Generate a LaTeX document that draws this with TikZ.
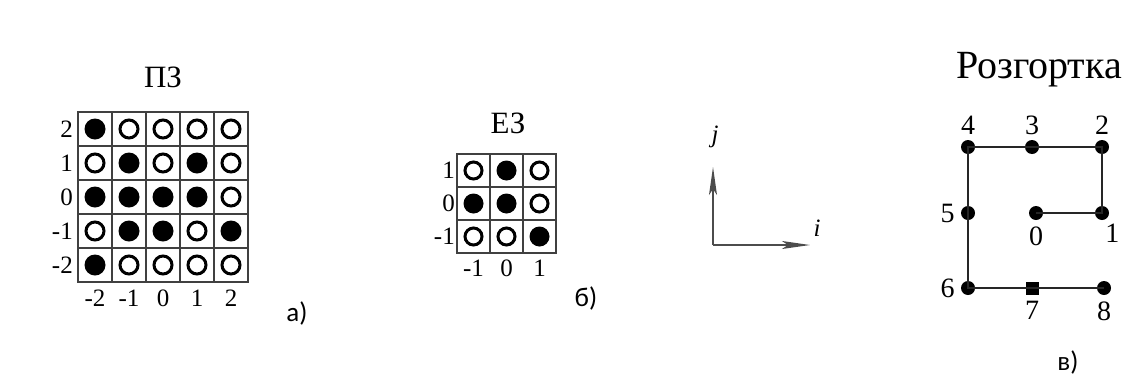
\documentclass[tikz,border=0pt]{standalone}
\usepackage{fontspec}
\setmainfont{Liberation Serif}
\newfontfamily\capfont{Carlito}
\usepackage{tikz}
\usetikzlibrary{arrows.meta, positioning}
\tikzset{
    gridline/.style={draw=black!75, line width=1.8pt},
    gridframe/.style={draw=black!75, line width=2.4pt},
    fulldot/.style={circle, fill=black, inner sep=0pt, minimum size=21pt},
    opendot/.style={circle, draw=black, line width=3pt, fill=white, inner sep=0pt, minimum size=18pt},
    ticklabel/.style={font=\fontsize{25}{27}\selectfont, inner sep=1pt},
    titlelabel/.style={font=\fontsize{31}{33}\selectfont, anchor=base},
    partlabel/.style={font=\capfont\fontsize{27}{29}\selectfont},
    walkdot/.style={circle, fill=black, inner sep=0pt, minimum size=14pt},
    walksquare/.style={rectangle, fill=black, inner sep=0pt, minimum size=13pt},
    walkline/.style={draw=black!85, line width=2pt},
    walklabel/.style={font=\fontsize{28}{30}\selectfont, inner sep=2pt},
    axisarrow/.style={draw=black!70, line width=1.4pt, -{Stealth[length=28pt, width=8pt, inset=6pt]}},
}
\begin{document}
\begin{tikzpicture}[x=1pt, y=-1pt]
    \useasboundingbox (0,0) rectangle (1129,381);

    % a) PZ grid
    \node[titlelabel] (pz-title) at (163,87) {ПЗ};
    \foreach \k in {1,...,4} {
        \draw[gridline] (78+34*\k,112) -- (78+34*\k,282);
        \draw[gridline] (78,112+34*\k) -- (248,112+34*\k);
    }
    \draw[gridframe] (78,112) rectangle (248,282);
    \foreach \row [count=\r] in {{1,0,0,0,0},{0,1,0,1,0},{1,1,1,1,0},{0,1,1,0,1},{1,0,0,0,0}} {
        \foreach \v [count=\c] in \row {
            \ifnum\v=1
                \node[fulldot] (pz-\r-\c) at (61+34*\c,95+34*\r) {};
            \else
                \node[opendot] (pz-\r-\c) at (61+34*\c,95+34*\r) {};
            \fi
        }
    }
    \foreach \lab [count=\r] in {2,1,0,-1,-2} {
        \node[ticklabel, anchor=east] (pz-row\r) at (74,95+34*\r) {\lab};
    }
    \foreach \lab [count=\c] in {-2,-1,0,1,2} {
        \node[ticklabel] (pz-col\c) at (61+34*\c,298) {\lab};
    }
    \node[partlabel] (part-a) at (297,313) {а)};

    % b) EZ grid
    \node[titlelabel] (ez-title) at (508,133) {ЕЗ};
    \foreach \k in {1,2} {
        \draw[gridline] (457+33*\k,154) -- (457+33*\k,253);
        \draw[gridline] (457,154+33*\k) -- (556,154+33*\k);
    }
    \draw[gridframe] (457,154) rectangle (556,253);
    \foreach \row [count=\r] in {{0,1,0},{1,1,0},{0,0,1}} {
        \foreach \v [count=\c] in \row {
            \ifnum\v=1
                \node[fulldot, minimum size=20pt] (ez-\r-\c) at (440.5+33*\c,137.5+33*\r) {};
            \else
                \node[opendot, minimum size=17pt] (ez-\r-\c) at (440.5+33*\c,137.5+33*\r) {};
            \fi
        }
    }
    \foreach \lab [count=\r] in {1,0,-1} {
        \node[ticklabel, anchor=east] (ez-row\r) at (456,137.5+33*\r) {\lab};
    }
    \foreach \lab [count=\c] in {-1,0,1} {
        \node[ticklabel] (ez-col\c) at (440.5+33*\c,268) {\lab};
    }
    \node[partlabel] (part-b) at (586,298) {б)};

    % axes
    \coordinate (ax-o) at (713,245);
    \coordinate (ax-j) at (713,167);
    \coordinate (ax-i) at (810,245);
    \draw[axisarrow] (ax-o) -- (ax-j);
    \draw[axisarrow] (ax-o) -- (ax-i);
    \node[font=\fontsize{25}{27}\selectfont\itshape] (ax-jlab) at (715,137) {j};
    \node[font=\fontsize{25}{27}\selectfont\itshape] (ax-ilab) at (817,228) {i};

    % c) unfolding path
    \node[font=\fontsize{40}{42}\selectfont, anchor=base] (walk-title) at (1039,78) {Розгортка};
    \node[walkdot] (w0) at (1036,213) {};
    \node[walkdot] (w1) at (1102,213) {};
    \node[walkdot] (w2) at (1102,147) {};
    \node[walkdot] (w3) at (1032,147) {};
    \node[walkdot] (w4) at (968,147) {};
    \node[walkdot] (w5) at (968,213) {};
    \node[walkdot] (w6) at (968,288) {};
    \node[walksquare] (w7) at (1032,288) {};
    \node[walkdot] (w8) at (1104,288) {};
    \draw[walkline] (w0.center) -- (w1.center) -- (w2.center) -- (w3.center) -- (w4.center)
        -- (w5.center) -- (w6.center) -- (w7.center) -- (w8.center);
    \node[walklabel, above=3pt of w4] (l4) {4};
    \node[walklabel, above=3pt of w3] (l3) {3};
    \node[walklabel, above=3pt of w2] (l2) {2};
    \node[walklabel, left=4pt of w5] (l5) {5};
    \node[walklabel, below=4pt of w0] (l0) {0};
    \node[walklabel, below right=4pt and -4pt of w1] (l1) {1};
    \node[walklabel, left=4pt of w6] (l6) {6};
    \node[walklabel, below=4pt of w7] (l7) {7};
    \node[walklabel, below=4pt of w8] (l8) {8};
    \node[partlabel] (part-c) at (1068,362) {в)};
\end{tikzpicture}
\end{document}
